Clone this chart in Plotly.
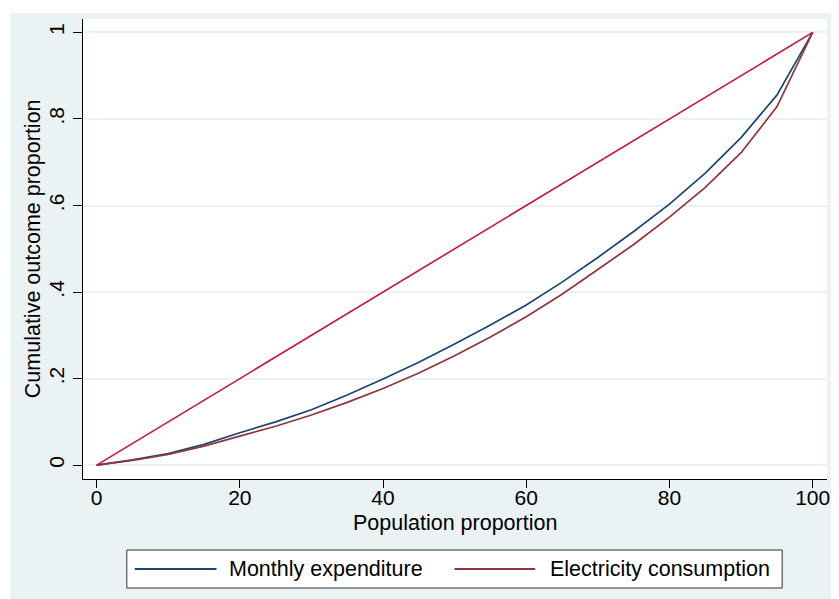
import plotly.graph_objects as go

# ---- data ----
population = [0, 5, 10, 15, 20, 25, 30, 35, 40, 45, 50, 55, 60, 65, 70, 75, 80, 85, 90, 95, 100]
monthly_expenditure = [0, 0.012, 0.027, 0.048, 0.075, 0.100, 0.128, 0.162, 0.199, 0.238, 0.280,
                       0.324, 0.370, 0.423, 0.480, 0.540, 0.603, 0.675, 0.757, 0.855, 1.0]
electricity_consumption = [0, 0.011, 0.025, 0.044, 0.067, 0.090, 0.116, 0.145, 0.177, 0.213, 0.253,
                           0.296, 0.343, 0.395, 0.452, 0.510, 0.573, 0.642, 0.722, 0.828, 1.0]
equality_x = [0, 100]
equality_y = [0, 1]
series_names = ["Monthly expenditure", "Electricity consumption"]
y_tickvals = [0, 0.2, 0.4, 0.6, 0.8, 1]
y_ticktext = ["0", ".2", ".4", ".6", ".8", "1"]
x_tickvals = [0, 20, 40, 60, 80, 100]

# ---- style ----
OFF = 8  # default page margin of the browser body
W, H = 839 - OFF, 599 - OFF
# plot-area edges in page pixels
L, R, T, B = 83, 830, 19, 479
BG = "#EAF2F3"
NAVY = "#1A476F"
MAROON = "#90353B"
RED = "#C8163C"
FONT = "Liberation Sans, Arial, sans-serif"
FS = 21.5
FS_TICK = 21


def px_x(p):
    return (p - L) / (R - L)


def px_y(p):
    return (B - p) / (B - T)


fig = go.Figure()
fig.add_trace(go.Scatter(x=population, y=monthly_expenditure, mode="lines", name=series_names[0],
                         line=dict(color=NAVY, width=1.7), showlegend=False))
fig.add_trace(go.Scatter(x=population, y=electricity_consumption, mode="lines", name=series_names[1],
                         line=dict(color=MAROON, width=1.7), showlegend=False))
fig.add_trace(go.Scatter(x=equality_x, y=equality_y, mode="lines", name="Equality",
                         line=dict(color=RED, width=1.6), showlegend=False))

shapes = [
    # white strips at top and left edge of the picture
    dict(type="rect", xref="paper", yref="paper", x0=px_x(0), x1=px_x(W + OFF), y0=px_y(0), y1=px_y(13),
         fillcolor="white", line=dict(width=0), layer="below"),
    dict(type="rect", xref="paper", yref="paper", x0=px_x(0), x1=px_x(10), y0=px_y(0), y1=px_y(H + OFF),
         fillcolor="white", line=dict(width=0), layer="below"),
    # legend box
    dict(type="rect", xref="paper", yref="paper", x0=px_x(127), x1=px_x(785), y0=px_y(550), y1=px_y(588),
         fillcolor="white", line=dict(color="#333333", width=1)),
    # legend samples
    dict(type="line", xref="paper", yref="paper", x0=px_x(135), x1=px_x(217), y0=px_y(569), y1=px_y(569),
         line=dict(color=NAVY, width=1.8)),
    dict(type="line", xref="paper", yref="paper", x0=px_x(456), x1=px_x(537), y0=px_y(569), y1=px_y(569),
         line=dict(color=MAROON, width=1.8)),
]

annotations = [
    dict(text=series_names[0], xref="paper", yref="paper", x=px_x(228), y=px_y(569),
         xanchor="left", yanchor="middle", showarrow=False, font=dict(size=FS, color="black", family=FONT)),
    dict(text=series_names[1], xref="paper", yref="paper", x=px_x(550), y=px_y(569),
         xanchor="left", yanchor="middle", showarrow=False, font=dict(size=FS, color="black", family=FONT)),
    dict(text="Population proportion", xref="paper", yref="paper", x=0.5, y=px_y(523),
         xanchor="center", yanchor="middle", showarrow=False, font=dict(size=FS, color="black", family=FONT)),
    dict(text="Cumulative outcome proportion", xref="paper", yref="paper", x=px_x(33), y=px_y(249),
         xanchor="center", yanchor="middle", textangle=-90, showarrow=False,
         font=dict(size=FS, color="black", family=FONT)),
]

fig.update_layout(
    width=W, height=H,
    margin=dict(l=L - OFF, r=W + OFF - R, t=T - OFF, b=H + OFF - B, pad=0),
    paper_bgcolor=BG, plot_bgcolor="white",
    font=dict(family=FONT, size=FS, color="black"),
    shapes=shapes, annotations=annotations,
    showlegend=False,
)
fig.update_xaxes(range=[-1.9, 102], tickvals=x_tickvals, showgrid=False, zeroline=False,
                 showline=True, linecolor="black", linewidth=1,
                 ticks="outside", ticklen=8, tickcolor="black", tickwidth=1, ticklabelstandoff=-8,
                 tickfont=dict(size=FS_TICK, color="black", family=FONT))
fig.update_yaxes(range=[-0.032, 1.031], tickvals=y_tickvals, ticktext=y_ticktext,
                 showgrid=True, gridcolor=BG, gridwidth=2, zeroline=False,
                 showline=True, linecolor="black", linewidth=1,
                 ticks="outside", ticklen=9, tickcolor="black", tickwidth=1, tickangle=-90,
                 ticklabelstandoff=1,
                 tickfont=dict(size=FS_TICK, color="black", family=FONT))

fig.write_html("out.html")
